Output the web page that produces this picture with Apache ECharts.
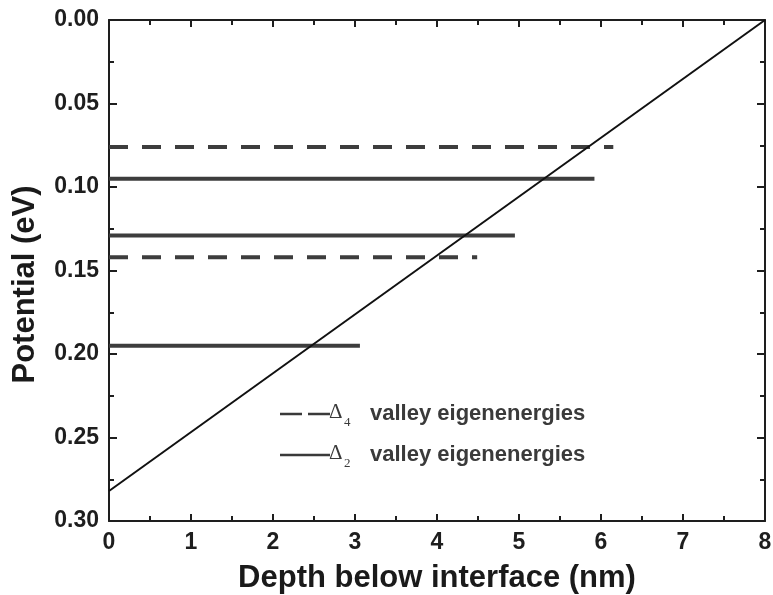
<!DOCTYPE html>
<html>
<head>
<meta charset="utf-8">
<script src="https://cdn.jsdelivr.net/npm/echarts@6/dist/echarts.min.js"></script>
<style>
  html, body { margin: 0; padding: 0; background: #fff; }
  #chart { width: 773px; height: 595px; }
</style>
</head>
<body>
<div id="chart"></div>
<script>
// Eigenenergy levels (eV) and the depth (nm) each level line extends to
const delta4Levels = [0.076, 0.142];
const delta4Ends = [6.15, 4.49];
const delta2Levels = [0.095, 0.129, 0.195];
const delta2Ends = [5.92, 4.95, 3.06];

// Triangular well potential vs. depth
const potentialDepth = [0, 8];
const potentialEnergy = [0.282, 0.0];

const xTicks = [0, 1, 2, 3, 4, 5, 6, 7, 8];
const yTicks = [0.00, 0.05, 0.10, 0.15, 0.20, 0.25, 0.30];

// Key entries: valley label subscript and caption
const keyEntries = [
  { sub: '4', caption: 'valley eigenenergies', dashed: true },
  { sub: '2', caption: 'valley eigenenergies', dashed: false }
];

const axisColor = '#1e1e1e';
const levelColor = '#3d3d3d';
const keyColor = '#3a3a3a';
const fontMain = 'Liberation Sans, Arial, sans-serif';
const fontSymbol = 'Liberation Serif, DejaVu Serif, serif';

function levelSeries(name, levels, ends, dashed) {
  return levels.map((lvl, i) => ({
    name: name,
    type: 'line',
    symbol: 'none',
    silent: true,
    data: [[0, lvl], [ends[i], lvl]],
    lineStyle: {
      color: levelColor,
      width: 4,
      type: dashed ? [19, 14] : 'solid',
      cap: 'butt'
    },
    z: 2
  }));
}

const baseXAxis = {
  type: 'value',
  min: xTicks[0],
  max: xTicks[xTicks.length - 1],
  interval: 1,
  axisLine: { show: true, onZero: false, lineStyle: { color: axisColor, width: 2 } },
  axisTick: { show: true, inside: true, length: 7, lineStyle: { color: axisColor, width: 2 } },
  minorTick: { show: true, splitNumber: 2, length: 5, lineStyle: { color: axisColor, width: 2 } },
  splitLine: { show: false }
};
const baseYAxis = {
  type: 'value',
  inverse: true,
  min: yTicks[0],
  max: yTicks[yTicks.length - 1],
  interval: 0.05,
  axisLine: { show: true, onZero: false, lineStyle: { color: axisColor, width: 2 } },
  axisTick: { show: true, inside: true, length: 8, lineStyle: { color: axisColor, width: 2 } },
  minorTick: { show: true, splitNumber: 2, length: 5, lineStyle: { color: axisColor, width: 2 } },
  splitLine: { show: false }
};

// Key block drawn as graphic elements (sample line, Δ with subscript, caption)
const keyLeft = 280, keyTop = 414, keyRowGap = 41;
const keyGraphics = [];
keyEntries.forEach((e, i) => {
  const y = keyTop + i * keyRowGap;
  keyGraphics.push({
    type: 'line',
    shape: { x1: keyLeft, y1: y, x2: keyLeft + 50, y2: y },
    style: { stroke: keyColor, lineWidth: 2.5, lineDash: e.dashed ? [22, 6] : null },
    silent: true
  });
  keyGraphics.push({
    type: 'text',
    x: keyLeft + 49, y: y + 9,
    style: { text: '\u0394', font: '21px ' + fontSymbol, fill: keyColor, verticalAlign: 'bottom' },
    silent: true
  });
  keyGraphics.push({
    type: 'text',
    x: keyLeft + 64, y: y + 15,
    style: { text: e.sub, font: '13px ' + fontSymbol, fill: keyColor, verticalAlign: 'bottom' },
    silent: true
  });
  keyGraphics.push({
    type: 'text',
    x: keyLeft + 90, y: y,
    style: { text: e.caption, font: 'bold 22px ' + fontMain, fill: keyColor, verticalAlign: 'middle' },
    silent: true
  });
});

const chart = echarts.init(document.getElementById('chart'), null, { renderer: 'canvas' });

chart.setOption({
  animation: false,
  backgroundColor: '#ffffff',
  grid: { left: 109, right: 8, top: 20, bottom: 74, containLabel: false, outerBoundsMode: 'none' },
  xAxis: [
    Object.assign({}, baseXAxis, {
      position: 'bottom',
      name: 'Depth below interface (nm)',
      nameLocation: 'middle',
      nameGap: 42,
      nameTextStyle: { fontFamily: fontMain, fontWeight: 'bold', fontSize: 31, color: '#1a1a1a' },
      axisLabel: { show: true, margin: 10, fontFamily: fontMain, fontWeight: 'bold', fontSize: 23, color: '#1e1e1e' }
    }),
    Object.assign({}, baseXAxis, { position: 'top', axisLabel: { show: false } })
  ],
  yAxis: [
    Object.assign({}, baseYAxis, {
      position: 'left',
      name: 'Potential (eV)',
      nameLocation: 'middle',
      nameGap: 68,
      nameRotate: 90,
      nameTextStyle: { fontFamily: fontMain, fontWeight: 'bold', fontSize: 31, color: '#1a1a1a', padding: [0, 28, 0, 0] },
      axisLabel: {
        show: true, margin: 10, fontFamily: fontMain, fontWeight: 'bold', fontSize: 23, color: '#1e1e1e',
        formatter: v => v.toFixed(2)
      }
    }),
    Object.assign({}, baseYAxis, { position: 'right', axisLabel: { show: false } })
  ],
  graphic: keyGraphics,
  series: [
    ...levelSeries('\u03944', delta4Levels, delta4Ends, true),
    ...levelSeries('\u03942', delta2Levels, delta2Ends, false),
    {
      name: 'potential',
      type: 'line',
      symbol: 'none',
      silent: true,
      data: potentialDepth.map((x, i) => [x, potentialEnergy[i]]),
      lineStyle: { color: '#111', width: 2 },
      z: 3
    }
  ]
});
</script>
</body>
</html>
